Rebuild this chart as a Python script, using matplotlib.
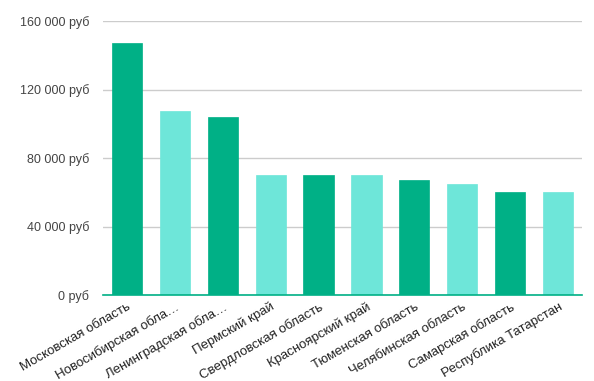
import matplotlib
matplotlib.use("Agg")
import matplotlib.pyplot as plt
from matplotlib.ticker import FuncFormatter

regions = ["Московская область", "Новосибирская обла…", "Ленинградская обла…",
           "Пермский край", "Свердловская область", "Красноярский край",
           "Тюменская область", "Челябинская область", "Самарская область",
           "Республика Татарстан"]
values = [147000, 107500, 104000, 70000, 70000, 70000, 67000, 65000, 60000, 60000]
yticks = [0, 40000, 80000, 120000, 160000]

dark = "#00B086"
light = "#6EE6D9"
colors = [dark if i % 2 == 0 else light for i in range(len(values))]

plt.rcParams['font.family'] = ['Liberation Sans', 'DejaVu Sans']
fig = plt.figure(figsize=(5.94, 3.81), dpi=100)
ax = fig.add_axes([103/594, 1-295/381, (582-103)/594, (295-21)/381])

x = list(range(len(values)))
ax.bar(x, values, width=0.63, color=colors, edgecolor=[c for c in colors], linewidth=0.5, zorder=3)
ax.set_xlim(-0.5, len(values)-0.5)
ax.set_ylim(0, 160000)
ax.set_yticks(yticks)
ax.yaxis.set_major_formatter(FuncFormatter(lambda v, p: f"{int(v):,}".replace(",", " ") + " руб"))
ax.grid(axis='y', color='#cccccc', linewidth=1, zorder=0)
for s in ['top', 'right', 'left']:
    ax.spines[s].set_visible(False)
ax.spines['bottom'].set_color(dark)
ax.spines['bottom'].set_linewidth(1.2)
ax.spines['bottom'].set_zorder(4)
ax.tick_params(axis='y', length=0, pad=10, labelsize=9, labelcolor='#444444')
ax.tick_params(axis='x', length=0, pad=4, labelsize=9.5, labelcolor='#222222')
ax.set_xticks(x)
ax.set_xticklabels(regions, rotation=30, ha='right', rotation_mode='anchor')

fig.savefig("out.png", dpi=100)
